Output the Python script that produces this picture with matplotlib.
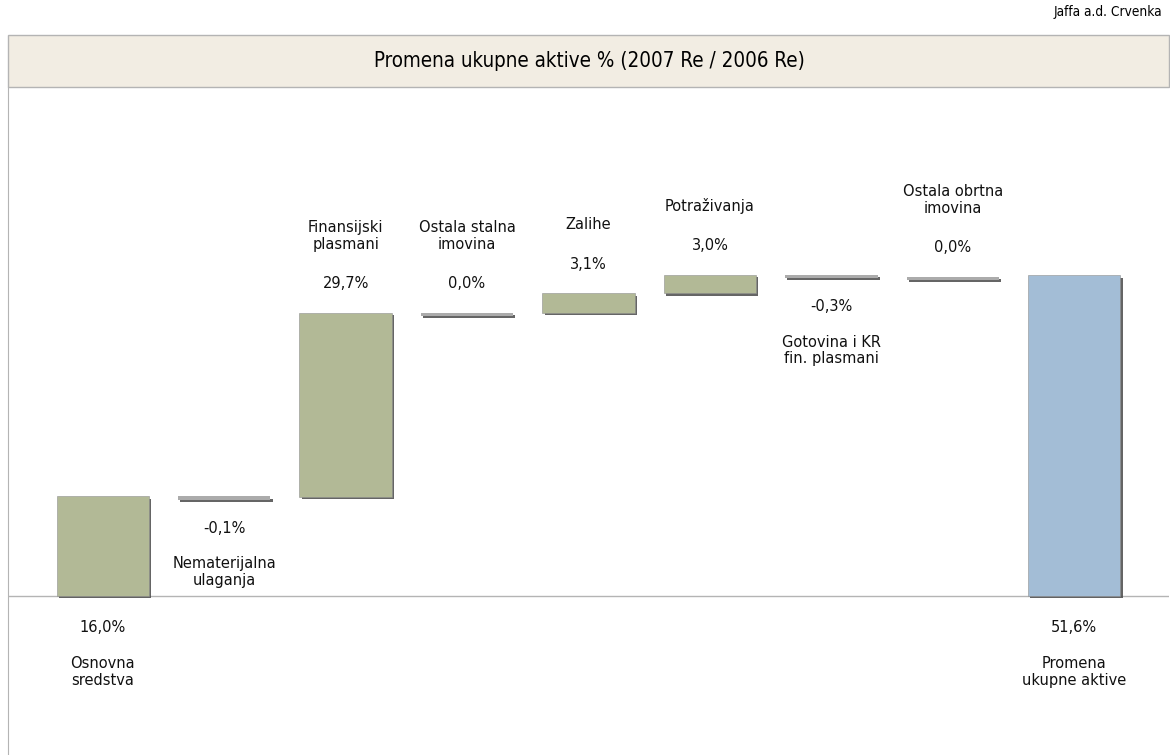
import matplotlib
matplotlib.use("Agg")
import matplotlib.pyplot as plt
import matplotlib.patheffects as pe
from matplotlib.patches import Rectangle

# data
categories = ["Osnovna\nsredstva", "Nematerijalna\nulaganja", "Finansijski\nplasmani",
              "Ostala stalna\nimovina", "Zalihe", "Potraživanja",
              "Gotovina i KR\nfin. plasmani", "Ostala obrtna\nimovina",
              "Promena\nukupne aktive"]
changes = [16.0, -0.1, 29.7, 0.0, 3.1, 3.0, -0.3, 0.0]
total = 51.6
value_labels = ["16,0%", "-0,1%", "29,7%", "0,0%", "3,1%", "3,0%", "-0,3%", "0,0%", "51,6%"]

title = "Promena ukupne aktive % (2007 Re / 2006 Re)"
company = "Jaffa a.d. Crvenka"

plt.rcParams['font.family'] = ['DejaVu Sans']

W, H = 1170, 755
fig = plt.figure(figsize=(W / 100, H / 100), dpi=100)

# header band
fig.text(1162 / W, 1 - 12 / H, company, ha='right', va='center', fontsize=9.8,
         fontstretch='condensed')
band = Rectangle((8 / W, 1 - 87 / H), (1169 - 8) / W, 52 / H, transform=fig.transFigure,
                 facecolor='#f2ede3', edgecolor='#b4b4b4', lw=1)
fig.patches.append(band)
fig.text(589 / W, 1 - 61 / H, title, ha='center', va='center', fontsize=14.8,
         fontstretch='condensed')

ax = fig.add_axes([8 / W, 0, (1169 - 8) / W, 1 - 87 / H])
ax.set_xlim(-0.78, 8.78)
ax.set_ylim(-25.6, 81.9)
for s in ['top', 'bottom', 'right']:
    ax.spines[s].set_visible(False)
ax.spines['left'].set_color('#b4b4b4')
ax.set_xticks([])
ax.set_yticks([])

ax.axhline(0, color='#b4b4b4', lw=1, zorder=1)

shadow = [pe.SimplePatchShadow(offset=(1.6, -1.6), shadow_rgbFace='#4a4a4a', alpha=0.85), pe.Normal()]

cum = 0.0
n = len(categories)
for i in range(n):
    if i < n - 1:
        v = changes[i]
        start = cum
        cum = cum + v
    else:
        v = total
        start = 0.0

    if abs(v) < 0.5:
        # tiny change: thin gray bar hanging from previous level
        b = ax.bar(i, -0.5, bottom=start, width=0.76, color='#ababab', zorder=2)
        top = start
    else:
        color = '#a3bdd6' if i == n - 1 else '#b2b996'
        b = ax.bar(i, v, bottom=start, width=0.76, color=color, edgecolor='#909090',
                   lw=0.4, zorder=2)
        top = max(start, start + v)
    for p in b:
        p.set_path_effects(shadow)

    if i == 0 or i == n - 1:
        anchor, below = 0.0, True
    elif v < 0:
        anchor, below = start, True
    elif v == 0:
        anchor, below = start, False
    else:
        anchor, below = top, False

    if below:
        ax.annotate(value_labels[i], (i, anchor), xytext=(0, -32), textcoords='offset pixels',
                    ha='center', va='center', fontsize=10.5, color='#111111')
        ax.annotate(categories[i], (i, anchor), xytext=(0, -60), textcoords='offset pixels',
                    ha='center', va='top', fontsize=10.5, linespacing=1.15, color='#111111')
    else:
        ax.annotate(value_labels[i], (i, anchor), xytext=(0, 29), textcoords='offset pixels',
                    ha='center', va='center', fontsize=10.5, color='#111111')
        ax.annotate(categories[i], (i, anchor), xytext=(0, 61), textcoords='offset pixels',
                    ha='center', va='bottom', fontsize=10.5, linespacing=1.15, color='#111111')

fig.savefig("out.png", dpi=100)
